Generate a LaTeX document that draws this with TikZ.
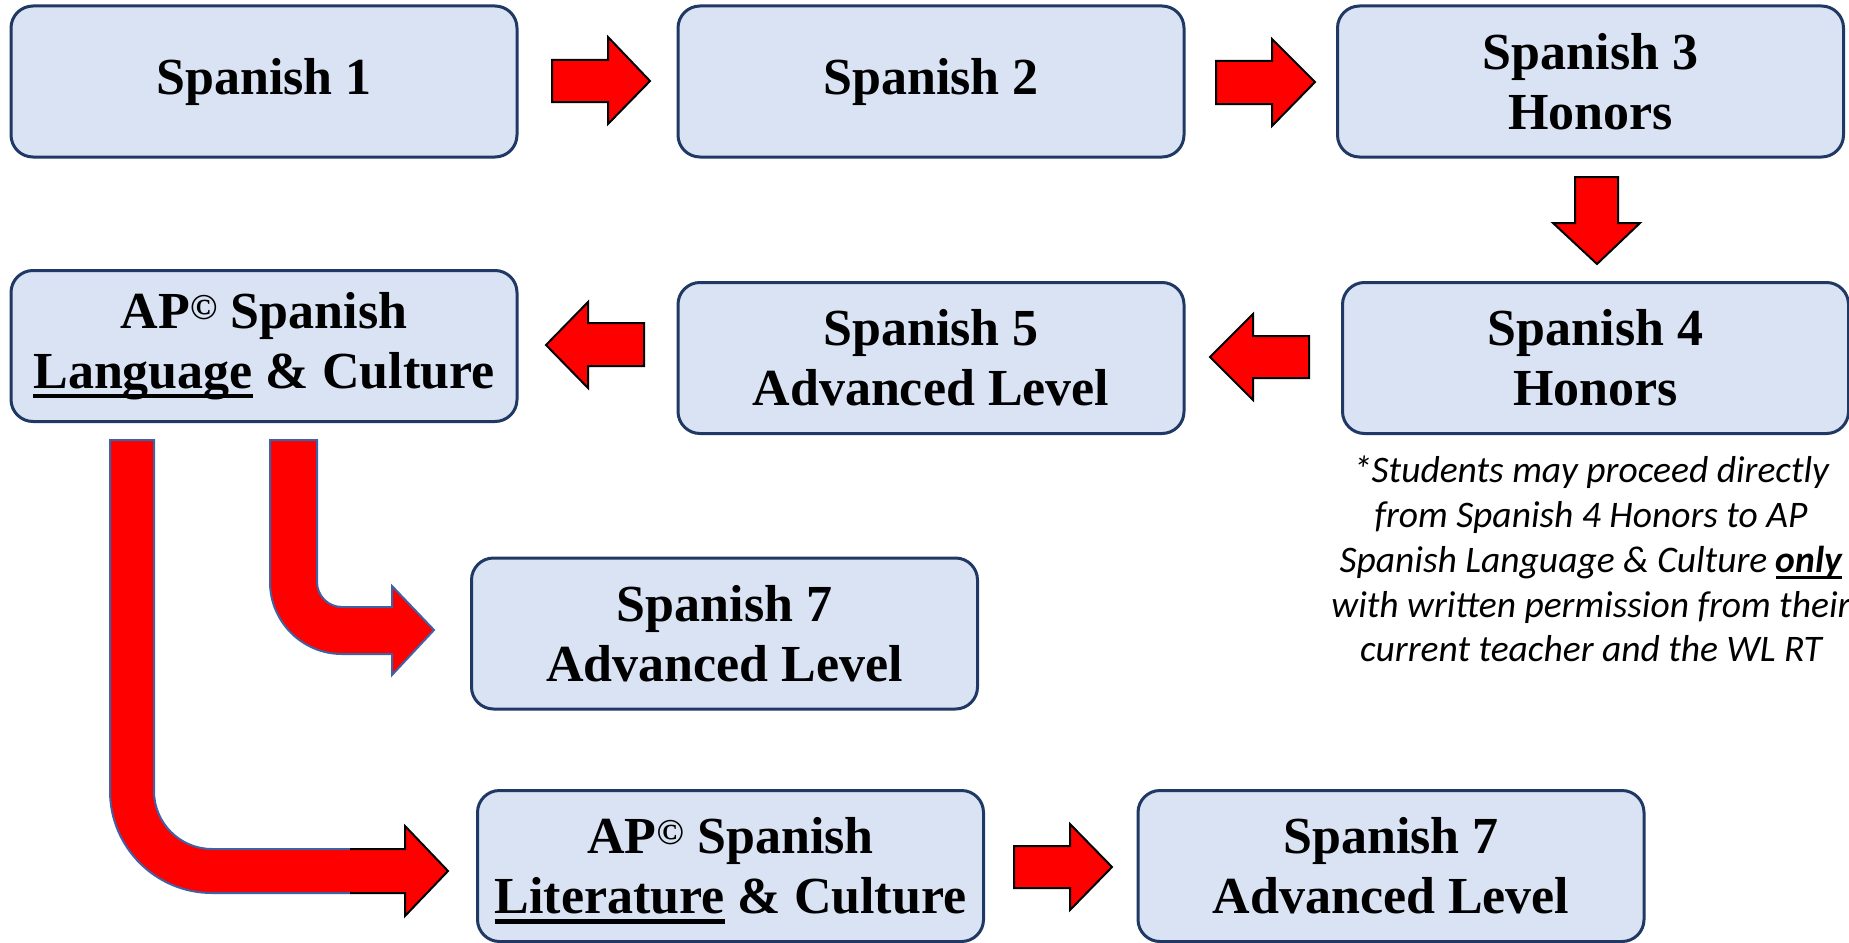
\documentclass[tikz,border=0pt]{standalone}
\usepackage{fontspec}
\setmainfont{Liberation Serif}
\newfontfamily\notefont{Carlito}
\definecolor{boxfill}{HTML}{DAE3F3}
\definecolor{boxline}{HTML}{203864}
\definecolor{curveline}{HTML}{3F62A6}
\definecolor{arrowred}{HTML}{FF0000}
\newsavebox\ulbox
\newcommand\myul[1]{\leavevmode\sbox\ulbox{#1}\rlap{\smash{\rule[-0.19em]{\wd\ulbox}{0.085em}}}\usebox\ulbox}
\begin{document}
\begin{tikzpicture}[x=1pt,y=-1pt,
  course/.style={draw=boxline, fill=boxfill, line width=3pt, rounded corners=22pt,
    minimum width=506pt, minimum height=151pt, inner sep=0pt, align=center,
    font=\fontsize{52}{60}\selectfont\bfseries},
  blockarrow/.style={fill=arrowred, draw=black, line width=2pt, line join=miter},
  bentarrow/.style={fill=arrowred, draw=curveline, line width=2pt},
  noteline/.style={anchor=base, inner sep=0pt, font=\notefont\itshape\fontsize{37.5}{45}\selectfont}]
\useasboundingbox (0,0) rectangle (1849,942);

% course boxes
\node[course] (s1) at (264,81.5) {Spanish 1};
\node[course] (s2) at (931,81.5) {Spanish 2};
\node[course] (s3) at (1590.5,81.5) {Spanish 3\\Honors};
\node[course] (s4) at (1595.5,358) {Spanish 4\\Honors};
\node[course] (s5) at (931,358) {Spanish 5\\Advanced Level};
\node[course] (apl) at (264,346) {AP\textsuperscript{\textcopyright} Spanish\\\myul{Language} \& Culture};
\node[course] (s7a) at (724.5,633.5) {Spanish 7\\Advanced Level};
\node[course] (apt) at (730.5,866) {AP\textsuperscript{\textcopyright} Spanish\\\myul{Literature} \& Culture};
\node[course] (s7b) at (1391,866) {Spanish 7\\Advanced Level};

% note
\node[noteline] (n1) at (1591,482) {*Students may proceed directly};
\node[noteline] (n2) at (1591,527) {from Spanish 4 Honors to AP};
\node[noteline] (n3) at (1591,572) {Spanish Language \& Culture \textbf{\myul{only}}};
\node[noteline] (n4) at (1591,617) {with written permission from their};
\node[noteline] (n5) at (1591,661) {current teacher and the WL RT};

% straight block arrows
\draw[blockarrow] (552,60)--(608,60)--(608,37)--(650,81)--(608,124)--(608,102)--(552,102)--cycle;
\draw[blockarrow] (1216,61)--(1272,61)--(1272,39)--(1315,82)--(1272,126)--(1272,104)--(1216,104)--cycle;
\draw[blockarrow] (1575,177)--(1618,177)--(1618,223)--(1640,223)--(1597,264)--(1553,223)--(1575,223)--cycle;
\draw[blockarrow] (1309,336)--(1253,336)--(1253,314)--(1210,357)--(1253,400)--(1253,378)--(1309,378)--cycle;
\draw[blockarrow] (644,323)--(588,323)--(588,302)--(546,345)--(588,388)--(588,366)--(644,366)--cycle;
\draw[blockarrow] (1014,846)--(1070,846)--(1070,824)--(1112,867)--(1070,910)--(1070,888)--(1014,888)--cycle;

% bent arrow to Spanish 7
\draw[bentarrow] (270,440) -- (317,440) -- (317,582)
  .. controls (317,595.8) and (328.2,607) .. (342,607) -- (392,607) -- (392,586)
  -- (434,630) -- (392,675) -- (392,654) -- (342,654)
  .. controls (302.2,654) and (270,621.7) .. (270,582) -- cycle;

% bent arrow to AP Literature
\fill[arrowred] (110,440) -- (154,440) -- (154,791)
  .. controls (154,823) and (180,849) .. (212,849) -- (405,849) -- (405,826)
  -- (448,871) -- (405,916) -- (405,893) -- (212,893)
  .. controls (155.7,893) and (110,847.3) .. (110,791) -- cycle;
\draw[curveline, line width=2pt] (350,849) -- (212,849)
  .. controls (180,849) and (154,823) .. (154,791) -- (154,440) -- (110,440) -- (110,791)
  .. controls (110,847.3) and (155.7,893) .. (212,893) -- (350,893);
\draw[black, line width=2pt, line join=miter] (350,849) -- (405,849) -- (405,826) -- (448,871) -- (405,916) -- (405,893) -- (350,893);
\end{tikzpicture}
\end{document}
